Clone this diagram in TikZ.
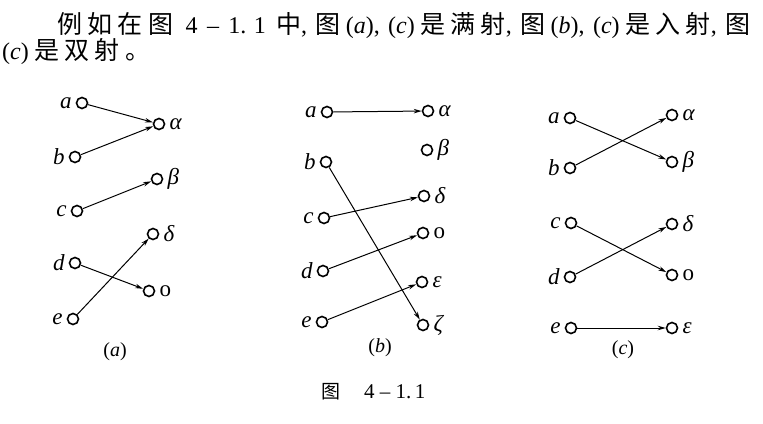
\documentclass[tikz,border=0pt]{standalone}
\usepackage{fontspec}
\setmainfont{Liberation Serif}
\newfontfamily\cjk{Noto Sans CJK SC}
\usetikzlibrary{arrows.meta, positioning}
\newcommand{\zh}[1]{{\cjk\fontsize{25}{28}\selectfont #1}}
\newcommand{\zg}{\hspace{1pt plus 1pt}}
\newcommand{\zc}{,\hspace{4pt plus 1pt}}
\tikzset{
  dot/.style={circle, draw, line width=1.6pt, minimum size=11pt, inner sep=0pt},
  dota/.style={dot, label distance=-3pt},
  map/.style={-{Stealth[length=8pt,width=4.5pt]}, line width=1pt},
  every label/.style={font=\fontsize{23}{26}\selectfont\itshape, inner sep=4pt},
  panel/.style={font=\fontsize{20}{22}\selectfont}
}
\begin{document}
\begin{tikzpicture}[x=1pt,y=-1pt]
\useasboundingbox (0,0) rectangle (763,423);

% Text above the figure
\node[anchor=west, inner sep=0pt, font=\fontsize{24}{28}\selectfont] (line1) at (57,26)
  {\hbox to 693pt{\zh{例}\zg\zh{如}\zg\zh{在}\zg\zh{图}\hspace{8pt plus 1pt}4\hspace{5pt plus 1pt}--\hspace{5pt plus 1pt}1.\hspace{3pt plus 1pt}1\hspace{6pt plus 1pt}\zh{中}\zc\zh{图}\zg(\textit{a})\zc(\textit{c})\zg\zh{是}\zg\zh{满}\zg\zh{射}\zc\zh{图}\zg(\textit{b})\zc(\textit{c})\zg\zh{是}\zg\zh{入}\zg\zh{射}\zc\zh{图}}};
\node[anchor=west, inner sep=0pt, font=\fontsize{24}{28}\selectfont] (line2) at (2,52)
  {\hbox to 148pt{(\textit{c})\zg\zh{是}\zg\zh{双}\zg\zh{射}\zg\zh{。}}};

% (a)
\node[dota, label=left:a] (A-a) at (82,103) {};
\node[dota, label=left:b] (A-b) at (75,157) {};
\node[dota, label=left:c] (A-c) at (77,211) {};
\node[dota, label=left:d] (A-d) at (75,263) {};
\node[dota, label=left:e] (A-e) at (73,319) {};
\node[dot, label=right:α] (A-alpha) at (159,124) {};
\node[dot, label=right:β] (A-beta) at (157,179) {};
\node[dot, label=right:δ] (A-delta) at (153,234) {};
\node[dot, label=right:\upshape o] (A-o) at (149,291) {};
\draw[map] (A-a) -- (A-alpha);
\draw[map] (A-b) -- (A-alpha);
\draw[map] (A-c) -- (A-beta);
\draw[map] (A-d) -- (A-o);
\draw[map] (A-e) -- (A-delta);
\node[panel] (A-cap) at (115,352) {(\textit{a})};

% (b)
\node[dot, label=left:a] (B-a) at (327,112) {};
\node[dot, label=left:b] (B-b) at (326,162) {};
\node[dot, label=left:c] (B-c) at (324,218) {};
\node[dot, label=left:d] (B-d) at (323,271) {};
\node[dot, label=left:e] (B-e) at (322,322) {};
\node[dot, label=right:α] (B-alpha) at (428,111) {};
\node[dot, label=right:β] (B-beta) at (427,150) {};
\node[dot, label=right:δ] (B-delta) at (424,196) {};
\node[dot, label=right:\upshape o] (B-o) at (423,233) {};
\node[dot, label=right:ε] (B-eps) at (422,282) {};
\node[dot, label=right:ζ] (B-zeta) at (423,325) {};
\draw[map] (B-a) -- (B-alpha);
\draw[map] (B-b) -- (B-zeta);
\draw[map] (B-c) -- (B-delta);
\draw[map] (B-d) -- (B-o);
\draw[map] (B-e) -- (B-eps);
\node[panel] (B-cap) at (380,348) {(\textit{b})};

% (c)
\node[dot, label=left:a] (C-a) at (570,118) {};
\node[dot, label=left:b] (C-b) at (570,168) {};
\node[dot, label=left:c] (C-c) at (571,223) {};
\node[dot, label=left:d] (C-d) at (570,277) {};
\node[dot, label=left:e] (C-e) at (571,328) {};
\node[dot, label=right:α] (C-alpha) at (672,115) {};
\node[dot, label=right:β] (C-beta) at (672,162) {};
\node[dot, label=right:δ] (C-delta) at (672,224) {};
\node[dot, label=right:\upshape o] (C-o) at (672,275) {};
\node[dot, label=right:ε] (C-eps) at (672,328) {};
\draw[map] (C-a) -- (C-beta);
\draw[map] (C-b) -- (C-alpha);
\draw[map] (C-c) -- (C-o);
\draw[map] (C-d) -- (C-delta);
\draw[map] (C-e) -- (C-eps);
\node[panel] (C-cap) at (623,350) {(\textit{c})};

% Caption
\node[anchor=west, inner sep=0pt, font=\fontsize{21}{24}\selectfont] (caption) at (321,392)
  {{\cjk\fontsize{19}{22}\selectfont 图}\hspace{24pt}4 -- 1.\,1};
\end{tikzpicture}
\end{document}
